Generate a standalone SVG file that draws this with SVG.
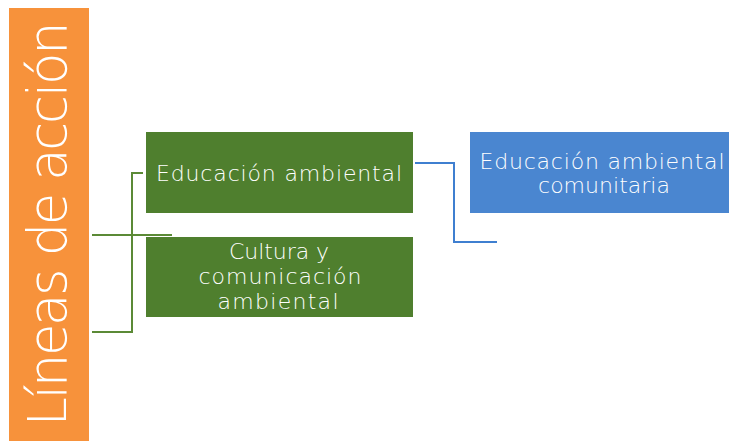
<svg xmlns="http://www.w3.org/2000/svg" width="729" height="441" viewBox="0 0 729 441">
<style>
.t{font-family:"DejaVu Sans","Liberation Sans",sans-serif;font-weight:200;fill:#ffffff;text-anchor:middle}
.g{fill:#4f7f2e}
.gl{stroke:#5b8a36;stroke-width:2;fill:none}
.bl{stroke:#3f7fd0;stroke-width:2;fill:none}
</style>
<rect width="729" height="441" fill="#ffffff"/>
<g id="lineas">
<rect x="9" y="8" width="80" height="433" fill="#f7923b"/>
<text class="t" transform="translate(66,224) rotate(-90)" font-size="53" textLength="405">Líneas de acción</text>
</g>
<g id="connectors">
<polyline class="gl" points="143,173 132,173 132,332 92,332"/>
<line class="gl" x1="92" y1="235" x2="172" y2="235"/>
<polyline class="bl" points="415,163 454,163 454,242 497,242"/>
</g>
<g id="educacion">
<rect class="g" x="146" y="132" width="267" height="81"/>
<text class="t" x="279" y="181" font-size="22" textLength="246">Educación ambiental</text>
</g>
<g id="cultura">
<rect class="g" x="146" y="237" width="267" height="80"/>
<text class="t" font-size="22"><tspan x="279" y="259" textLength="100">Cultura y</tspan><tspan x="280" y="284" textLength="163">comunicación</tspan><tspan x="278" y="309" textLength="121">ambiental</tspan></text>
</g>
<g id="comunitaria">
<rect x="470" y="132" width="259" height="81" fill="#4a86d0"/>
<text class="t" font-size="22"><tspan x="602" y="169" textLength="245">Educación ambiental</tspan><tspan x="604" y="193" textLength="132">comunitaria</tspan></text>
</g>
</svg>
